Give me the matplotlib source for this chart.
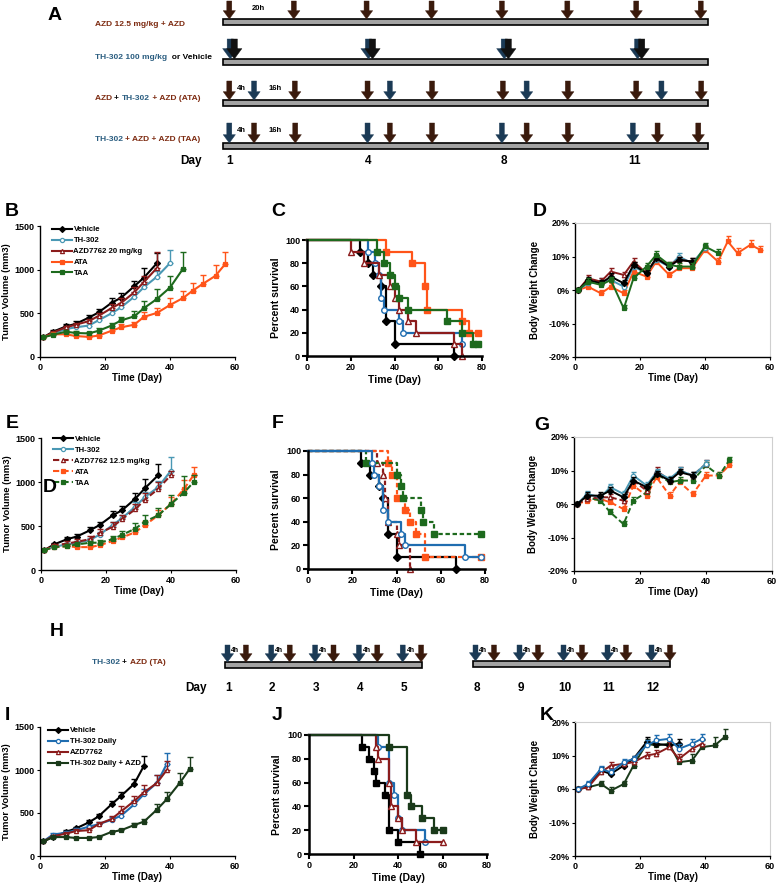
import numpy as np
import matplotlib
matplotlib.use('Agg')
import matplotlib.pyplot as plt
import matplotlib.ticker as mticker
from matplotlib.patches import Rectangle

plt.rcParams['font.family'] = ['Liberation Sans', 'DejaVu Sans']
plt.rcParams['font.weight'] = 'bold'
plt.rcParams['axes.labelweight'] = 'bold'

W, H = 778, 883

# colores
BLACK = '#000000'
TEAL = '#4a98b4'
BLUE = '#1f6db0'
DRED = '#8b1c1c'
ORANGE = '#ff5419'
GREEN = '#1d6a1d'
DKGREEN = '#1a3a1a'
BROWN_ARR = '#3a1a0c'
BLUE_ARR = '#1b3a55'
BROWN_TXT = '#7d2a10'
BLUE_TXT = '#2a5d80'

# ---------------- datos: esquema A (unidades del esquema, 0-100 a lo largo de la barra)
a_row1_azd = [1.3, 14.6, 29.6, 43.0, 57.5, 71.0, 85.2, 98.5]
a_row2_th = [1.5, 30.0, 58.0, 85.5]
a_row3_azd = [1.3, 14.8, 29.8, 43.1, 57.7, 71.1, 85.2, 98.6]
a_row3_th = [6.4, 34.4, 62.6, 90.4]
a_row4_th = [1.3, 29.8, 57.5, 84.5]
a_row4_azd = [6.4, 14.9, 34.4, 43.1, 62.6, 71.1, 89.6, 98.0]
a_day_labels = ['1', '4', '8', '11']
a_day_pos = [1.3, 30.0, 58.0, 84.8]

# esquema H
h_days = [1, 2, 3, 4, 5, 8, 9, 10, 11, 12]
h_azd_lag = 0.42

# ---------------- datos: volumen tumoral
days_b = [1, 4, 8, 11, 15, 18, 22, 25, 29, 32, 36, 40, 44, 47, 50, 54, 57]
b_vehicle = [225, 290, 350, 380, 450, 510, 620, 680, 810, 910, 1075]
b_vehicle_err = [10, 20, 25, 30, 35, 40, 50, 50, 60, 110, 120]
b_th302 = [225, 270, 320, 340, 360, 420, 500, 570, 690, 800, 920, 1075]
b_th302_err = [10, 15, 20, 20, 25, 30, 40, 40, 50, 60, 70, 150]
b_azd = [225, 280, 340, 370, 410, 470, 560, 620, 740, 860, 1020]
b_azd_err = [10, 20, 20, 25, 30, 35, 50, 50, 60, 70, 180]
b_ata = [225, 260, 260, 240, 230, 245, 300, 340, 370, 460, 505, 595, 675, 760, 835, 930, 1065]
b_ata_err = [10, 15, 15, 15, 20, 20, 30, 35, 35, 50, 60, 80, 80, 90, 100, 120, 140]
b_taa = [225, 255, 290, 275, 270, 300, 360, 420, 465, 560, 665, 795, 1010]
b_taa_err = [10, 15, 20, 20, 20, 30, 35, 40, 60, 80, 110, 130, 190]

days_e = [1, 4, 8, 11, 15, 18, 22, 25, 29, 32, 36, 40, 44, 47]
e_vehicle = [225, 290, 350, 380, 450, 510, 620, 680, 810, 930, 1075]
e_vehicle_err = [10, 20, 25, 30, 35, 40, 50, 50, 70, 100, 130]
e_th302 = [225, 265, 290, 310, 340, 400, 510, 590, 720, 830, 940, 1130]
e_th302_err = [10, 15, 20, 20, 25, 30, 40, 40, 50, 60, 70, 150]
e_azd = [225, 280, 300, 320, 350, 420, 490, 580, 690, 800, 920, 1080]
e_azd_err = [10, 15, 30, 30, 40, 50, 50, 50, 60, 70, 80, 40]
e_ata = [225, 260, 270, 260, 260, 280, 330, 370, 430, 510, 620, 750, 920, 1080]
e_ata_err = [10, 15, 15, 15, 20, 20, 30, 30, 40, 50, 60, 80, 100, 90]
e_taa = [225, 260, 270, 290, 310, 310, 350, 400, 470, 550, 620, 750, 880, 1000]
e_taa_err = [10, 15, 20, 20, 25, 30, 35, 40, 60, 70, 90, 100, 190, 80]

days_i = [1, 4, 8, 11, 15, 18, 22, 25, 29, 32, 36, 39, 43, 46]
i_vehicle = [170, 220, 280, 320, 390, 460, 600, 700, 840, 1050]
i_vehicle_err = [10, 15, 20, 20, 25, 30, 40, 40, 50, 110]
i_th302 = [170, 250, 270, 300, 340, 370, 420, 470, 600, 720, 850, 1070]
i_th302_err = [10, 15, 20, 20, 25, 30, 35, 40, 50, 60, 90, 130]
i_azd = [170, 230, 260, 290, 300, 370, 430, 520, 640, 740, 850, 1000]
i_azd_err = [10, 15, 20, 20, 25, 30, 40, 60, 60, 80, 90, 110]
i_combo = [170, 220, 220, 210, 210, 220, 280, 300, 360, 400, 540, 660, 850, 1010]
i_combo_err = [10, 10, 10, 10, 10, 10, 15, 15, 20, 25, 60, 80, 110, 140]

# ---------------- datos: supervivencia (tiempo, % supervivencia)
c_vehicle_t = [0, 24, 28, 30, 34, 36, 40, 67]
c_vehicle_s = [100, 90, 80, 70, 60, 30, 10, 0]
c_th302_t = [0, 28, 31, 33, 34, 35, 42, 44, 71]
c_th302_s = [100, 90, 80, 70, 50, 40, 30, 20, 10]
c_azd_t = [0, 20, 26, 33, 38, 40, 42, 46, 50, 67, 71]
c_azd_s = [100, 90, 80, 70, 60, 50, 40, 30, 20, 10, 0]
c_ata_t = [0, 36, 48, 54, 55, 71, 74, 78]
c_ata_s = [100, 90, 80, 60, 40, 30, 20, 20]
c_taa_t = [0, 32, 35, 38, 40, 42, 46, 64, 71, 76, 78]
c_taa_s = [100, 90, 80, 70, 60, 50, 40, 30, 20, 10, 10]

f_vehicle_t = [0, 24, 28, 32, 34, 36, 40, 67]
f_vehicle_s = [100, 90, 80, 70, 60, 30, 10, 0]
f_th302_t = [0, 29, 30, 32, 34, 36, 42, 44, 71, 78]
f_th302_s = [100, 90, 80, 70, 50, 40, 30, 20, 10, 10]
f_azd_t = [0, 31, 34, 35, 36, 40, 41, 46]
f_azd_s = [100, 90, 80, 60, 40, 30, 20, 0]
f_ata_t = [0, 36, 38, 40, 44, 46, 49, 53, 78]
f_ata_s = [100, 90, 80, 60, 50, 40, 30, 10, 10]
f_taa_t = [0, 26, 40, 42, 43, 51, 52, 57, 78]
f_taa_s = [100, 90, 80, 70, 60, 50, 40, 30, 30]

j_vehicle_t = [0, 24, 27, 29, 30, 34, 36, 40, 50]
j_vehicle_s = [100, 90, 80, 70, 60, 50, 20, 10, 0]
j_th302_t = [0, 31, 36, 38, 40, 42, 52]
j_th302_s = [100, 90, 60, 50, 30, 20, 10]
j_azd_t = [0, 30, 31, 36, 37, 40, 42, 48, 60]
j_azd_s = [100, 90, 80, 60, 40, 30, 20, 10, 10]
j_combo_t = [0, 36, 44, 46, 51, 56, 60]
j_combo_s = [100, 90, 50, 40, 30, 20, 20]

# ---------------- datos: cambio de peso (%)
d_vehicle = [0, 3, 2, 4, 2, 7.5, 5, 9.5, 7, 9, 8.5]
d_vehicle_err = [0.5, 1, 1, 1, 1, 1, 1, 1, 1, 1, 1]
d_th302 = [0, 2, 2.5, 3, 1, 7, 5, 9, 7, 10, 8, 12.5]
d_th302_err = [0.5, 1, 1, 1, 1, 1, 1, 1, 1, 1, 1, 1]
d_azd = [0, 3.5, 2.5, 5.5, 4.5, 8.5, 5, 9.5, 7.5, 9, 8.5]
d_azd_err = [0.5, 1, 1, 1, 1, 1.2, 1, 1, 1, 1, 1]
d_ata = [0, 1, -1, 1, -1, 5.5, 4, 8.5, 4.5, 6.5, 6.5, 12, 8.5, 14.5, 11, 13.5, 12]
d_ata_err = [0.5, 1, 1, 1, 1, 1, 1, 1, 1, 1, 1, 1, 1, 1.5, 1.5, 1.5, 1.2]
d_taa = [0, 2.5, 1.5, 3, -5.5, 3.5, 7, 10.5, 7.5, 7, 7, 13, 11]
d_taa_err = [0.5, 1, 1, 1, 1, 1, 1, 1.2, 1, 1, 1, 1, 1.2]

g_vehicle = [0, 2.5, 2.5, 4, 2, 7, 5, 9, 7, 9.5, 8.5]
g_vehicle_err = [0.5, 1, 1, 1, 1, 1, 1, 1, 1, 1, 1]
g_th302 = [0, 3, 2, 5, 3, 8.5, 5.5, 9.5, 7.5, 10, 8.5, 12]
g_th302_err = [0.5, 1, 1, 1, 1, 1, 1, 1, 1, 1, 1, 1]
g_azd = [0, 1.5, 2, 2, 1, 7, 4, 10, 7, 10, 8.5, 12]
g_azd_err = [0.5, 1, 1, 1, 1, 1, 1, 1, 1, 1, 1, 1]
g_ata = [0, 1, 1.5, 0.5, -1.5, 5.5, 2.5, 8, 2.5, 6.5, 3, 8.5, 8.5, 11.5]
g_ata_err = [0.5, 1, 1, 1, 1, 1, 1, 1, 1, 1, 1, 1, 1, 1]
g_taa = [0, 2, 1, -2.5, -6, 1, 3.5, 9, 6.5, 7, 7, 11.5, 8.5, 13]
g_taa_err = [0.5, 1, 1, 1, 1, 1, 1, 1, 1, 1, 1, 1, 1, 1]

k_vehicle = [0, 1, 5.5, 4.5, 7, 9, 14, 13.5, 13, 13.5]
k_vehicle_err = [0.5, 1, 1, 1, 1, 1, 1.5, 1.5, 1.5, 1.5]
k_th302 = [0, 1.5, 6, 5, 8, 9, 13, 14.5, 15, 12, 13.5, 15]
k_th302_err = [0.5, 1, 1, 1, 1, 1, 1.5, 1.5, 1.5, 1.5, 1.5, 1.5]
k_azd = [0, 0.5, 5, 7, 7.5, 8, 10, 10.5, 12.5, 9, 12, 13.5]
k_azd_err = [0.5, 1, 1, 1, 1, 1, 1, 1, 1.5, 1.5, 1.5, 1.5]
k_combo = [0, 0.5, 1.5, -0.5, 1.5, 7, 13.5, 13, 13.5, 8, 8.5, 12.5, 13, 15.5]
k_combo_err = [0.5, 1, 1, 1, 1, 1, 1.5, 1.5, 1.5, 1.5, 2, 2, 2.5, 2.5]

fig = plt.figure(figsize=(W / 100, H / 100), dpi=100)

# capa para los esquemas, en coordenadas de pixel
ax_s = fig.add_axes([0, 0, 1, 1])
ax_s.set_xlim(0, W)
ax_s.set_ylim(H, 0)
ax_s.axis('off')


def add_ax(l, t, r, b):
    return fig.add_axes([l / W, 1 - b / H, (r - l) / W, (b - t) / H])


def flecha(x, y0, y1, color, scale=8):
    ax_s.annotate('', xy=(x, y1), xytext=(x, y0),
                  arrowprops=dict(arrowstyle='simple,head_width=1.1,head_length=0.75,tail_width=0.45',
                                  fc=color, ec=color, lw=0.3, shrinkA=0, shrinkB=0,
                                  mutation_scale=scale))


def texto_color(x, y, partes, size=6):
    t = ax_s.text(x, y, partes[0][0], color=partes[0][1], fontsize=size, va='bottom', ha='left')
    for txt, col in partes[1:]:
        t = ax_s.annotate(txt, xy=(1, 0), xycoords=t, color=col, fontsize=size, va='bottom', ha='left')


def barra(x0, x1, y, h=6):
    ax_s.add_patch(Rectangle((x0, y), x1 - x0, h, fc='#a3a3a3', ec='black', lw=1.2))


# ---------------- panel A
A_X0, A_X1 = 223, 708


def ax_a(u):
    return A_X0 + u * (A_X1 - A_X0) / 100


for top in [19, 59, 100, 143]:
    barra(A_X0, A_X1, top)
for u in a_row1_azd:
    flecha(ax_a(u), 1, 19, BROWN_ARR)
for u in a_row2_th:
    flecha(ax_a(u), 39, 59, BLUE_ARR, scale=10)
    flecha(ax_a(u) + 4, 39, 59, '#111111', scale=10)
for u in a_row3_azd:
    flecha(ax_a(u), 81, 100, BROWN_ARR)
for u in a_row3_th:
    flecha(ax_a(u), 81, 100, BLUE_ARR)
for u in a_row4_azd:
    flecha(ax_a(u), 123, 143, BROWN_ARR)
for u in a_row4_th:
    flecha(ax_a(u), 123, 143, BLUE_ARR)

texto_color(95, 28, [('AZD 12.5 mg/kg + AZD', BROWN_TXT)])
texto_color(95, 61, [('TH-302 100 mg/kg', BLUE_TXT), ('  or Vehicle', 'black')])
texto_color(95, 102, [('AZD ', BROWN_TXT), ('+ ', 'black'), ('TH-302', BLUE_TXT), (' + AZD (ATA)', BROWN_TXT)])
texto_color(95, 143, [('TH-302 ', BLUE_TXT), ('+ AZD + AZD (TAA)', BROWN_TXT)])
ax_s.text(258, 8, '20h', fontsize=5.5, ha='center', va='center')
for yy in [89, 131]:
    ax_s.text(241, yy, '4h', fontsize=5.5, ha='center', va='center')
    ax_s.text(275, yy, '16h', fontsize=5.5, ha='center', va='center')
ax_s.text(191, 161, 'Day', fontsize=8.5, ha='center', va='center')
for lab, u in zip(a_day_labels, a_day_pos):
    ax_s.text(ax_a(u), 161, lab, fontsize=8.5, ha='center', va='center')

# ---------------- panel H


def ax_h(d):
    if d < 7:
        return 227.5 + (d - 1) * 43.8
    return 475.5 + (d - 8) * 44.0


barra(ax_h(0.94), ax_h(5.43), 662)
barra(ax_h(7.94), ax_h(12.43), 661)
for d in h_days:
    y_bar = 662 if d < 7 else 661
    flecha(ax_h(d), 645, y_bar, BLUE_ARR)
    flecha(ax_h(d + h_azd_lag), 645, y_bar, BROWN_ARR)
    ax_s.text(ax_h(d) + 8, 651, '4h', fontsize=5, ha='center', va='center')
    ax_s.text(ax_h(d) + 1, 688, str(d), fontsize=8.5, ha='center', va='center')
ax_s.text(196, 688, 'Day', fontsize=8.5, ha='center', va='center')
texto_color(92, 666, [('TH-302 ', BLUE_TXT), ('+ ', 'black'), ('AZD (TA)', BROWN_TXT)])

# letras de paneles
for lab, x, y in [('A', 55, 15), ('B', 12, 212), ('C', 278, 212), ('D', 540, 212),
                  ('E', 12, 423), ('F', 278, 423), ('G', 542, 425), ('H', 57, 632),
                  ('I', 7, 715), ('J', 277, 715), ('K', 547, 715)]:
    ax_s.text(x, y, lab, fontsize=14, ha='center', va='center')


# ---------------- estilos
def estilo_excel(ax, marco=False):
    for s in ['top', 'right']:
        if marco:
            ax.spines[s].set_color('#cfcfcf')
            ax.spines[s].set_linewidth(0.8)
        else:
            ax.spines[s].set_visible(False)
    for s in ['left', 'bottom']:
        ax.spines[s].set_linewidth(1.0)
    ax.tick_params(direction='out', length=2.5, width=0.8, labelsize=6.5, pad=1.5)


def estilo_prism(ax):
    ax.spines['top'].set_visible(False)
    ax.spines['right'].set_visible(False)
    for s in ['left', 'bottom']:
        ax.spines[s].set_linewidth(1.8)
    ax.tick_params(direction='out', length=3.5, width=1.5, labelsize=6.5, pad=1.5)


def volumen(ax, dias, y, err, color, marker, mfc, ls='-', label=None):
    x = dias[:len(y)]
    ax.errorbar(x, y, yerr=[np.zeros(len(err)), err], fmt='none', ecolor=color,
                elinewidth=1, capsize=2, capthick=1)
    line, = ax.plot(x, y, color=color, lw=1.5, ls=ls, marker=marker, ms=3,
                    mfc=mfc, mec=color, mew=0.9, label=label)
    return line


def ejes_volumen(ax):
    estilo_excel(ax)
    ax.set_xlim(0, 60)
    ax.set_ylim(0, 1500)
    ax.set_xticks([0, 20, 40, 60])
    ax.set_yticks([0, 500, 1000, 1500])
    ax.set_xlabel('Time (Day)', fontsize=7, labelpad=1)
    ax.set_ylabel('Tumor Volume (mm3)', fontsize=6.8)
    ax.yaxis.set_label_coords(-0.15, 0.5)


def ejes_peso(ax):
    estilo_excel(ax, marco=True)
    ax.set_xlim(0, 60)
    ax.set_ylim(-20, 20)
    ax.set_xticks([0, 20, 40, 60])
    ax.set_yticks([-20, -10, 0, 10, 20])
    ax.yaxis.set_major_formatter(mticker.FuncFormatter(lambda v, p: f'{v:.0f}%'))
    ax.set_xlabel('Time (Day)', fontsize=7, labelpad=1)
    ax.set_ylabel('Body Weight Change', fontsize=7)
    ax.yaxis.set_label_coords(-0.18, 0.5)


def ejes_superv(ax):
    estilo_prism(ax)
    ax.set_xlim(0, 80)
    ax.set_ylim(0, 100)
    ax.set_xticks([0, 20, 40, 60, 80])
    ax.set_yticks([0, 20, 40, 60, 80, 100])
    ax.set_xlabel('Time (Day)', fontsize=7.5, labelpad=2)
    ax.set_ylabel('Percent survival', fontsize=7.5)
    ax.yaxis.set_label_coords(-0.15, 0.5)


def km(ax, t, s, color, marker, mfc=None, ls='-'):
    ax.step(t, s, where='post', color=color, lw=1.6, ls=ls, clip_on=False)
    ax.plot(t[1:], s[1:], ls='none', marker=marker, color=color,
            mfc=mfc if mfc else color, mec=color, ms=4, mew=1, clip_on=False)


def peso(ax, dias, y, err, color, marker, mfc, ls='-'):
    x = dias[:len(y)]
    ax.errorbar(x, y, yerr=[np.zeros(len(err)), err], fmt='none', ecolor=color,
                elinewidth=1, capsize=1.8, capthick=1)
    ax.plot(x, y, color=color, lw=1.4, ls=ls, marker=marker, ms=3.2,
            mfc=mfc, mec=color, mew=0.9)


def leyenda(ax, handles, ancla):
    ax.legend(handles=handles, loc='upper left', bbox_to_anchor=ancla, frameon=False,
              fontsize=5.6, handlelength=2.6, handletextpad=0.2, labelspacing=0.45,
              borderaxespad=0, borderpad=0)


DASH = (0, (3, 1.5))
DOT = (0, (2, 1.2))

# ---------------- panel B
ax = add_ax(40, 226, 235, 357)
ejes_volumen(ax)
h = [volumen(ax, days_b, b_vehicle, b_vehicle_err, BLACK, 'D', BLACK, label='Vehicle'),
     volumen(ax, days_b, b_th302, b_th302_err, TEAL, 'o', 'white', label='TH-302'),
     volumen(ax, days_b, b_azd, b_azd_err, DRED, '^', 'white', label='AZD7762 20 mg/kg'),
     volumen(ax, days_b, b_ata, b_ata_err, ORANGE, 's', ORANGE, label='ATA'),
     volumen(ax, days_b, b_taa, b_taa_err, GREEN, 's', GREEN, label='TAA')]
leyenda(ax, h, (0.06, 1.0))

# ---------------- panel C
ax = add_ax(307, 240, 482, 356)
ejes_superv(ax)
km(ax, c_vehicle_t, c_vehicle_s, BLACK, 'D')
km(ax, c_th302_t, c_th302_s, BLUE, 'o', 'white')
km(ax, c_azd_t, c_azd_s, DRED, '^', 'white')
km(ax, c_ata_t, c_ata_s, ORANGE, 's')
km(ax, c_taa_t, c_taa_s, GREEN, 's')

# ---------------- panel D
ax = add_ax(575, 223, 770, 357)
ejes_peso(ax)
peso(ax, days_b, d_ata, d_ata_err, ORANGE, 's', ORANGE)
peso(ax, days_b, d_th302, d_th302_err, TEAL, 'o', 'white')
peso(ax, days_b, d_azd, d_azd_err, DRED, '^', 'white')
peso(ax, days_b, d_vehicle, d_vehicle_err, BLACK, 'D', BLACK)
peso(ax, days_b, d_taa, d_taa_err, GREEN, 's', GREEN)

# ---------------- panel E
ax = add_ax(41, 438, 236, 570)
ejes_volumen(ax)
h = [volumen(ax, days_e, e_vehicle, e_vehicle_err, BLACK, 'D', BLACK, label='Vehicle'),
     volumen(ax, days_e, e_th302, e_th302_err, TEAL, 'o', 'white', label='TH-302'),
     volumen(ax, days_e, e_azd, e_azd_err, DRED, '^', 'white', ls=DASH, label='AZD7762 12.5 mg/kg'),
     volumen(ax, days_e, e_ata, e_ata_err, ORANGE, 's', ORANGE, ls=DASH, label='ATA'),
     volumen(ax, days_e, e_taa, e_taa_err, GREEN, 's', GREEN, ls=DASH, label='TAA')]
leyenda(ax, h, (0.06, 1.02))
# letra "D" que aparece sobre la leyenda de E en la figura original
fig.text(50 / W, 1 - 488 / H, 'D', fontsize=14, ha='center', va='center')

# ---------------- panel F
ax = add_ax(308, 451, 485, 569)
ejes_superv(ax)
km(ax, f_vehicle_t, f_vehicle_s, BLACK, 'D')
km(ax, f_azd_t, f_azd_s, DRED, '^', 'white', ls=DOT)
km(ax, f_ata_t, f_ata_s, ORANGE, 's', ls=DOT)
km(ax, f_taa_t, f_taa_s, GREEN, 's', ls=DOT)
km(ax, f_th302_t, f_th302_s, BLUE, 'o', 'white')

# ---------------- panel G
ax = add_ax(574, 437, 772, 571)
ejes_peso(ax)
peso(ax, days_e, g_ata, g_ata_err, ORANGE, 's', ORANGE, ls=DASH)
peso(ax, days_e, g_taa, g_taa_err, GREEN, 's', GREEN, ls=DASH)
peso(ax, days_e, g_azd, g_azd_err, DRED, '^', 'white', ls=DASH)
peso(ax, days_e, g_th302, g_th302_err, TEAL, 'o', 'white')
peso(ax, days_e, g_vehicle, g_vehicle_err, BLACK, 'D', BLACK)

# ---------------- panel I
ax = add_ax(40, 727, 235, 856)
ejes_volumen(ax)
h = [volumen(ax, days_i, i_vehicle, i_vehicle_err, BLACK, 'D', BLACK, label='Vehicle'),
     volumen(ax, days_i, i_th302, i_th302_err, BLUE, 'o', 'white', label='TH-302 Daily'),
     volumen(ax, days_i, i_azd, i_azd_err, DRED, '^', 'white', label='AZD7762'),
     volumen(ax, days_i, i_combo, i_combo_err, DKGREEN, 's', DKGREEN, label='TH-302 Daily + AZD')]
leyenda(ax, h, (0.04, 1.0))

# ---------------- panel J
ax = add_ax(309, 735, 487, 854)
ejes_superv(ax)
km(ax, j_vehicle_t, j_vehicle_s, BLACK, 's')
km(ax, j_th302_t, j_th302_s, BLUE, 'o', 'white')
km(ax, j_azd_t, j_azd_s, DRED, '^', 'white')
km(ax, j_combo_t, j_combo_s, DKGREEN, 's')

# ---------------- panel K
ax = add_ax(575, 722, 770, 856)
ejes_peso(ax)
peso(ax, days_i, k_combo, k_combo_err, DKGREEN, 's', DKGREEN)
peso(ax, days_i, k_vehicle, k_vehicle_err, BLACK, 'D', BLACK)
peso(ax, days_i, k_azd, k_azd_err, DRED, '^', 'white')
peso(ax, days_i, k_th302, k_th302_err, BLUE, 'o', 'white')

fig.savefig('out.png', dpi=100)
